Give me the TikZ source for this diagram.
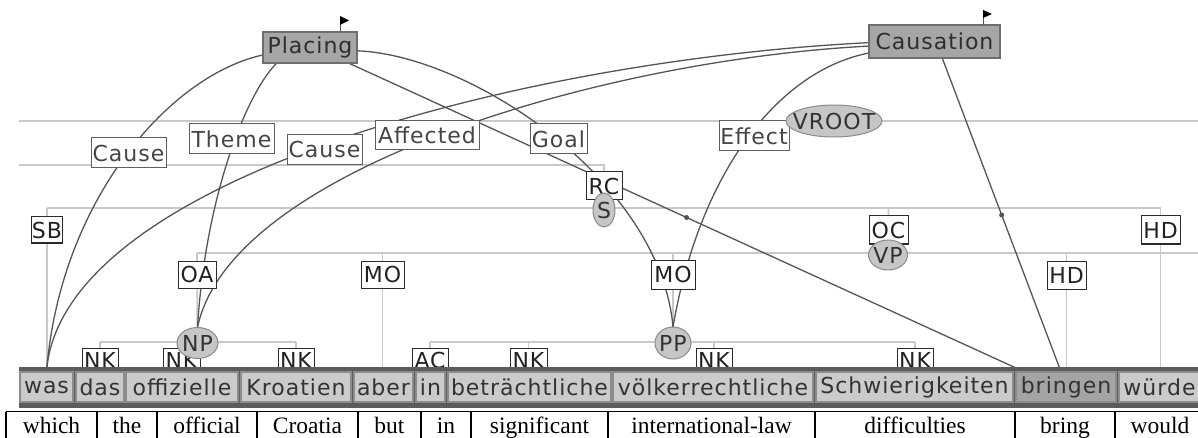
\documentclass[tikz,border=0pt]{standalone}
\usepackage{fontspec}
\setmainfont{Liberation Serif}
\newfontfamily\djv{DejaVu Sans}[LetterSpace=4.5]
\usetikzlibrary{shapes.geometric}
\definecolor{treegray}{HTML}{C9C9C9}
\definecolor{edgedark}{HTML}{555555}
\definecolor{framefill}{HTML}{A6A6A6}
\definecolor{frameborder}{HTML}{6E6E6E}
\definecolor{frametext}{HTML}{2E2E2E}
\definecolor{feborder}{HTML}{5E5E5E}
\definecolor{fetext}{HTML}{454545}
\definecolor{edgeborder}{HTML}{2A2A2A}
\definecolor{edgetext}{HTML}{222222}
\definecolor{catfill}{HTML}{C6C6C6}
\definecolor{catborder}{HTML}{8A8A8A}
\definecolor{cattext}{HTML}{333333}
\definecolor{barfill}{HTML}{5C5C5C}
\definecolor{wordfill}{HTML}{CBCBCB}
\definecolor{wordborder}{HTML}{8C8C8C}
\definecolor{wordtext}{HTML}{333333}
\definecolor{verbfill}{HTML}{A4A4A4}
\pgfdeclarelayer{bg}
\pgfdeclarelayer{edges}
\pgfdeclarelayer{top}
\pgfsetlayers{bg,edges,main,top}
\begin{document}
\begin{tikzpicture}[x=1pt,y=-1pt,
  lbl/.style={font=\djv\fontsize{22}{26}\selectfont, inner xsep=0pt, inner ysep=0pt, outer sep=0pt},
  framebox/.style={lbl, fill=framefill, draw=frameborder, text=frametext, line width=1.2pt},
  felab/.style={lbl, fill=white, draw=feborder, text=fetext, minimum height=30pt, line width=1pt},
  edgelab/.style={lbl, fill=white, draw=edgeborder, text=edgetext, minimum height=27pt, line width=1pt},
  cat/.style={lbl, ellipse, fill=catfill, draw=catborder, text=cattext, line width=1pt},
  word/.style={lbl, fill=wordfill, draw=wordborder, text=wordtext, minimum height=30pt, line width=1.2pt},
  treeline/.style={draw=treegray, line width=1.8pt},
  feline/.style={draw=edgedark, line width=1.3pt},
  middot/.style={circle, fill=edgedark, inner sep=0pt, minimum size=5pt},
  glossword/.style={font=\fontsize{23.5}{28}\selectfont, inner sep=0pt, anchor=base},
  glossrule/.style={draw=black, line width=1.2pt},
]
\useasboundingbox (0,0) rectangle (1198,438);

% level coordinates
\coordinate (lvVroot) at (0,121);
\coordinate (lvUp) at (0,165);
\coordinate (lvS) at (0,208);
\coordinate (lvVP) at (0,253);
\coordinate (lvNP) at (0,342);

% ---------- frames ----------
\node[framebox, minimum width=94pt, minimum height=31pt] (Placing) at (310,47.5) {Placing};
\node[framebox, minimum width=131pt, minimum height=33pt] (Causation) at (934.5,41.5) {Causation};
\draw[edgedark, line width=1pt] ([xshift=-17pt]Placing.north east) -- ++(0,-16);
\fill ([xshift=-17pt,yshift=16pt]Placing.north east) -- ++(9,4.5) -- ++(-9,4.5) -- cycle;
\draw[edgedark, line width=1pt] ([xshift=-17pt]Causation.north east) -- ++(0,-15);
\fill ([xshift=-17pt,yshift=15pt]Causation.north east) -- ++(9,4) -- ++(-9,4) -- cycle;

% ---------- frame element labels ----------
\node[felab, minimum width=75pt] (feCauseP) at (128.5,153) {Cause};
\node[felab, minimum width=85pt] (feTheme) at (231.5,139) {Theme};
\node[felab, minimum width=75pt] (feCauseC) at (324.5,149.5) {Cause};
\node[felab, minimum width=104pt, minimum height=29pt] (feAffected) at (427,135.5) {Affected};
\node[felab, minimum width=57pt] (feGoal) at (558.5,139) {Goal};
\node[felab, minimum width=70pt] (feEffect) at (754,136) {Effect};

% ---------- syntactic edge labels ----------
\node[edgelab, minimum width=30pt, minimum height=26pt] (SB) at (47,230) {SB};
\node[edgelab, minimum width=36pt, minimum height=28pt] (RC) at (604,186) {RC};
\node[edgelab, minimum width=39pt, minimum height=28pt] (OC) at (888.5,230) {OC};
\node[edgelab, minimum width=39pt, minimum height=28pt] (HDa) at (1160.5,230) {HD};
\node[edgelab, minimum width=38pt] (OA) at (197,274.5) {OA};
\node[edgelab, minimum width=43pt] (MOa) at (382.5,274.5) {MO};
\node[edgelab, minimum width=44pt, minimum height=29pt] (MOb) at (673,274.5) {MO};
\node[edgelab, minimum width=39pt, minimum height=28pt] (HDb) at (1066.5,275) {HD};
\node[edgelab, minimum width=36pt, minimum height=25pt] (NKa) at (100,360.5) {NK};
\node[edgelab, minimum width=37pt, minimum height=25pt] (NKb) at (181.5,360.5) {NK};
\node[edgelab, minimum width=36pt, minimum height=25pt] (NKc) at (296,360.5) {NK};
\node[edgelab, minimum width=36pt, minimum height=25pt] (AC) at (430,360.5) {AC};
\node[edgelab, minimum width=37pt, minimum height=25pt] (NKd) at (528.5,360.5) {NK};
\node[edgelab, minimum width=36pt, minimum height=25pt] (NKe) at (714,360.5) {NK};
\node[edgelab, minimum width=36pt, minimum height=25pt] (NKf) at (915,360.5) {NK};

% ---------- category nodes ----------
\node[cat, minimum width=96pt, minimum height=32pt] (VROOT) at (834,121) {\makebox[0pt]{VROOT}};
\node[cat, minimum width=22pt, minimum height=34pt] (S) at (604,210) {\makebox[0pt]{S}};
\node[cat, minimum width=39pt, minimum height=30pt] (VP) at (888,255) {\makebox[0pt]{VP}};
\node[cat, minimum width=41pt, minimum height=31pt] (NP) at (197.5,343) {\makebox[0pt]{NP}};
\node[cat, minimum width=36pt, minimum height=32pt] (PP) at (673,343) {\makebox[0pt]{PP}};

% ---------- word bar, words, gloss ----------
\begin{pgfonlayer}{top}
\fill[barfill] (19,366.5) rectangle (1199,407.5);
\node[word, minimum width=53pt] (was) at (46.5,387) {was};
\node[word, minimum width=48pt] (das) at (100,387) {das};
\node[word, minimum width=112pt] (offizielle) at (182,387) {offizielle};
\node[word, minimum width=110pt] (Kroatien) at (296,387) {Kroatien};
\node[word, minimum width=59pt] (aber) at (383.5,387) {aber};
\node[word, minimum width=29pt] (in) at (430.5,387) {in};
\node[word, minimum width=163pt] (betr) at (529.5,387) {beträchtliche};
\node[word, minimum width=200pt] (voelk) at (713,387) {völkerrechtliche};
\node[word, minimum width=197pt] (schw) at (914.5,387) {Schwierigkeiten};
\node[word, minimum width=100pt, fill=verbfill] (bringen) at (1066,387) {bringen};
\node[word, minimum width=81pt] (wuerde) at (1159.5,387) {würde};

\draw[glossrule] (6,411.5) -- (1199,411.5);
\foreach \gx in {6,97,157,257,358,421,471,608,815,1015,1115}
  \draw[glossrule] (\gx,411.5) -- (\gx,440);
\node[glossword] (g1) at (51.5,433) {which};
\node[glossword] (g2) at (127,433) {the};
\node[glossword] (g3) at (207,433) {official};
\node[glossword] (g4) at (307.5,433) {Croatia};
\node[glossword] (g5) at (389.5,433) {but};
\node[glossword] (g6) at (446,433) {in};
\node[glossword] (g7) at (539.5,433) {significant};
\node[glossword] (g8) at (711.5,433) {international-law};
\node[glossword] (g9) at (915,433) {difficulties};
\node[glossword] (g10) at (1065,433) {bring};
\node[glossword] (g11) at (1160,433) {would};
\end{pgfonlayer}

% ---------- syntactic tree lines ----------
\begin{pgfonlayer}{bg}
\draw[treeline] (19,121) -- (1199,121);
\draw[treeline] (19,165) -- (RC.north |- lvUp) -- (RC.north);
\draw[treeline] (SB |- lvS) -- (HDa |- lvS);
\draw[treeline] (SB |- lvS) -- (was.north -| SB);
\draw[treeline] (OC |- lvS) -- (VP);
\draw[treeline] (HDa |- lvS) -- (wuerde.north -| HDa);
\draw[treeline] (OA |- lvVP) -- (1199,253);
\draw[treeline] (OA |- lvVP) -- (NP);
\draw[treeline] (MOa |- lvVP) -- (aber.north -| MOa);
\draw[treeline] (MOb |- lvVP) -- (PP);
\draw[treeline] (HDb |- lvVP) -- (bringen.north -| HDb);
\draw[treeline] (NKa |- lvNP) -- (NKc |- lvNP);
\draw[treeline] (NKa |- lvNP) -- (das.north -| NKa);
\draw[treeline] (NKb |- lvNP) -- (offizielle.north -| NKb);
\draw[treeline] (NKc |- lvNP) -- (Kroatien.north -| NKc);
\draw[treeline] (AC |- lvNP) -- (NKf |- lvNP);
\draw[treeline] (AC |- lvNP) -- (in.north -| AC);
\draw[treeline] (NKd |- lvNP) -- (betr.north -| NKd);
\draw[treeline] (NKe |- lvNP) -- (voelk.north -| NKe);
\draw[treeline] (NKf |- lvNP) -- (schw.north -| NKf);
\end{pgfonlayer}

% ---------- frame element edges ----------
\begin{pgfonlayer}{edges}
\draw[feline] (Placing.189) .. controls (170,75) and (60,200) .. (was.north);
\draw[feline] (Placing.205) .. controls (245,95) and (205,200) .. (NP.north);
\draw[feline] (Placing.-4) .. controls (470,55) and (660,180) .. (PP.north);
\draw[feline] (Placing.-22) -- node[middot, pos=0.5] (dotP) {} (bringen.160);
\draw[feline] (Causation.181) .. controls (520,60) and (60,180) .. (was.north);
\draw[feline] (Causation.184) .. controls (600,60) and (230,170) .. (NP.north);
\draw[feline] (Causation.190) .. controls (780,70) and (700,170) .. (PP.north);
\draw[feline] (Causation.-65) -- node[middot, pos=0.5] (dotC) {} (bringen.108);
\end{pgfonlayer}
\end{tikzpicture}
\end{document}
